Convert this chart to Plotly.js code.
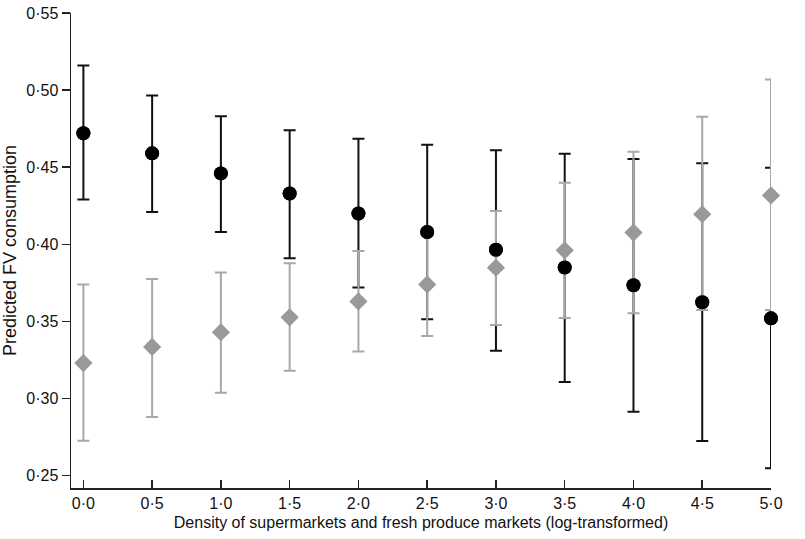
<!DOCTYPE html>
<html>
<head>
<meta charset="utf-8">
<script src="https://cdn.plot.ly/plotly-3.0.1.min.js"></script>
<style>
  html, body { margin: 0; padding: 0; background: #fff; }
  #plot { width: 805px; height: 539px; }
</style>
</head>
<body>
<div id="plot"></div>
<script>
// density (log-transformed)
const density = [0, 0.5, 1, 1.5, 2, 2.5, 3, 3.5, 4, 4.5, 5];

// black circles
const blackMean  = [0.472, 0.459, 0.446, 0.433, 0.420, 0.408, 0.3965, 0.385, 0.3735, 0.3624, 0.352];
const blackUpper = [0.516, 0.4965, 0.483, 0.474, 0.4685, 0.4645, 0.461, 0.4587, 0.4554, 0.4526, 0.4496];
const blackLower = [0.429, 0.421, 0.408, 0.391, 0.372, 0.3515, 0.331, 0.3107, 0.2914, 0.2724, 0.2548];

// grey diamonds
const greyMean  = [0.323, 0.3335, 0.343, 0.3527, 0.363, 0.374, 0.3848, 0.3961, 0.4076, 0.4195, 0.4317];
const greyUpper = [0.374, 0.3775, 0.3818, 0.3878, 0.3957, 0.408, 0.4216, 0.440, 0.4601, 0.4827, 0.5069];
const greyLower = [0.2726, 0.2881, 0.3038, 0.318, 0.3305, 0.3405, 0.3477, 0.3523, 0.3553, 0.3574, 0.3574];

const xTicks = [0, 0.5, 1, 1.5, 2, 2.5, 3, 3.5, 4, 4.5, 5];
const xTickText = ['0·0', '0·5', '1·0', '1·5', '2·0', '2·5', '3·0', '3·5', '4·0', '4·5', '5·0'];
const yTicks = [0.25, 0.30, 0.35, 0.40, 0.45, 0.50, 0.55];
const yTickText = ['0·25', '0·30', '0·35', '0·40', '0·45', '0·50', '0·55'];

const up = (hi, mid) => hi.map((h, i) => h - mid[i]);
const down = (lo, mid) => lo.map((l, i) => mid[i] - l);

const FONT = '"Liberation Sans", Arial, Helvetica, sans-serif';

const traces = [
  {
    // black error bars (drawn first so grey bars sit on top)
    type: 'scatter',
    mode: 'markers',
    x: density,
    y: blackMean,
    marker: { size: 14, color: '#000', symbol: 'circle' },
    error_y: {
      type: 'data',
      symmetric: false,
      array: up(blackUpper, blackMean),
      arrayminus: down(blackLower, blackMean),
      color: '#111',
      thickness: 2,
      width: 6
    },
    cliponaxis: false,
    hoverinfo: 'skip'
  },
  {
    type: 'scatter',
    mode: 'markers',
    x: density,
    y: greyMean,
    marker: { size: 14, color: '#999999', symbol: 'diamond' },
    error_y: {
      type: 'data',
      symmetric: false,
      array: up(greyUpper, greyMean),
      arrayminus: down(greyLower, greyMean),
      color: '#a8a8a8',
      thickness: 2,
      width: 6
    },
    cliponaxis: false,
    hoverinfo: 'skip'
  },
  {
    // black circles again, above the grey bars
    type: 'scatter',
    mode: 'markers',
    x: density,
    y: blackMean,
    marker: { size: 14, color: '#000', symbol: 'circle' },
    cliponaxis: false,
    hoverinfo: 'skip'
  }
];

const layout = {
  width: 805,
  height: 539,
  margin: { l: 71, r: 34, t: 13, b: 51 },
  paper_bgcolor: '#fff',
  plot_bgcolor: '#fff',
  showlegend: false,
  font: { family: FONT, color: '#111', size: 16 },
  xaxis: {
    range: [-0.09, 5.0],
    tickvals: xTicks,
    ticktext: xTickText,
    ticks: 'inside',
    ticklen: 8,
    tickwidth: 1.5,
    tickcolor: '#222',
    showline: true,
    linecolor: '#222',
    linewidth: 1.5,
    showgrid: false,
    zeroline: false,
    tickfont: { family: FONT, size: 16, color: '#111' },
    title: {
      text: 'Density of supermarkets and fresh produce markets (log-transformed)',
      font: { family: FONT, size: 16, color: '#111' },
      standoff: 6
    }
  },
  yaxis: {
    range: [0.242, 0.55],
    tickvals: yTicks,
    ticktext: yTickText,
    ticks: 'outside',
    ticklen: 8,
    tickwidth: 1.5,
    tickcolor: '#222',
    showline: true,
    linecolor: '#222',
    linewidth: 1.5,
    showgrid: false,
    zeroline: false,
    tickfont: { family: FONT, size: 16, color: '#111' },
    title: {
      text: 'Predicted FV consumption',
      font: { family: FONT, size: 18, color: '#111' },
      standoff: 6
    }
  }
};

Plotly.newPlot('plot', traces, layout, { displayModeBar: false, staticPlot: true });
</script>
</body>
</html>
